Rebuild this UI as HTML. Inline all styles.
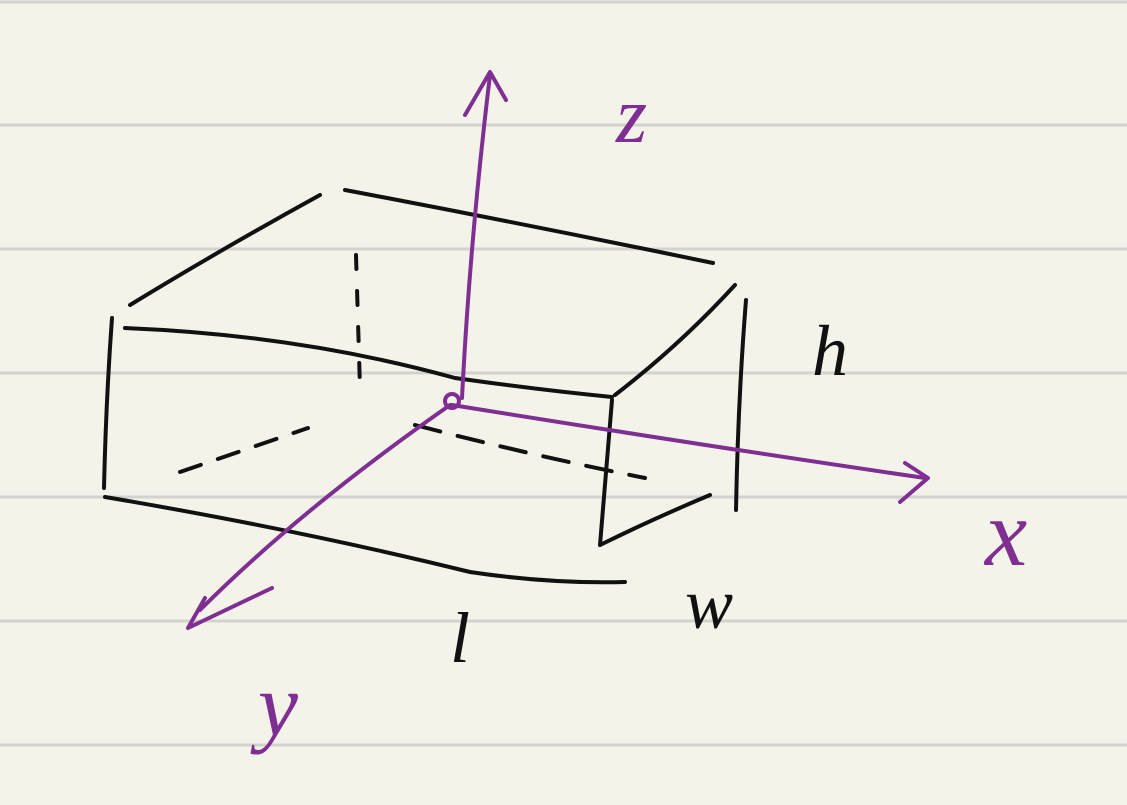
<!DOCTYPE html>
<html><head><meta charset="utf-8"><style>
html,body{margin:0;padding:0;background:#f4f3e9;}
svg{display:block}
</style></head><body>
<svg width="1127" height="805" viewBox="0 0 1127 805">
<rect width="1127" height="805" fill="#f4f3e9"/>
<g stroke="#d2d2cf" stroke-width="3">
<line x1="0" y1="2" x2="1127" y2="2"/>
<line x1="0" y1="125" x2="1127" y2="125"/>
<line x1="0" y1="249" x2="1127" y2="249"/>
<line x1="0" y1="373" x2="1127" y2="373"/>
<line x1="0" y1="497" x2="1127" y2="497"/>
<line x1="0" y1="621" x2="1127" y2="621"/>
<line x1="0" y1="745" x2="1127" y2="745"/>
</g>
<g fill="none" stroke="#111" stroke-width="4" stroke-linecap="round">
<path d="M130 305 Q220 250 320 195"/>
<path d="M345 190 Q530 225 713 263"/>
<path d="M735 285 Q680 345 615 395"/>
<path d="M125 328 Q300 335 455 378 Q540 390 612 397"/>
<path d="M112 318 Q106 400 104 488"/>
<path d="M105 497 Q300 530 470 572 Q550 584 625 582"/>
<path d="M612 400 Q606 470 600 545"/>
<path d="M600 545 Q655 518 710 495"/>
<path d="M746 300 Q738 400 736 510"/>
<path d="M356 255 L360 388" stroke-dasharray="14 22"/>
<path d="M180 472 L308 428" stroke-dasharray="22 18"/>
<path d="M415 425 Q530 455 645 478" stroke-dasharray="26 18"/>
</g>
<g fill="none" stroke="#7f2f91" stroke-width="4" stroke-linecap="round" stroke-linejoin="round">
<path d="M462 398 Q470 240 490 75"/>
<path d="M465 115 L490 72 L506 100"/>
<path d="M452 405 Q700 445 925 478"/>
<path d="M905 463 L928 478 L900 502"/>
<path d="M450 405 Q300 510 200 610"/>
<path d="M272 588 L188 628 L205 598"/>
<circle cx="452" cy="401" r="7"/>
</g>
<g font-family="Liberation Serif, serif" font-style="italic">
<text x="616" y="142" font-size="80" fill="#7f2f91">z</text>
<text x="985" y="565" font-size="95" fill="#7f2f91">x</text>
<text x="258" y="735" font-size="90" fill="#7f2f91">y</text>
<text x="812" y="375" font-size="72" fill="#111">h</text>
<text x="685" y="628" font-size="72" fill="#111">w</text>
<text x="450" y="662" font-size="72" fill="#111">l</text>
</g>
</svg>
</body></html>
